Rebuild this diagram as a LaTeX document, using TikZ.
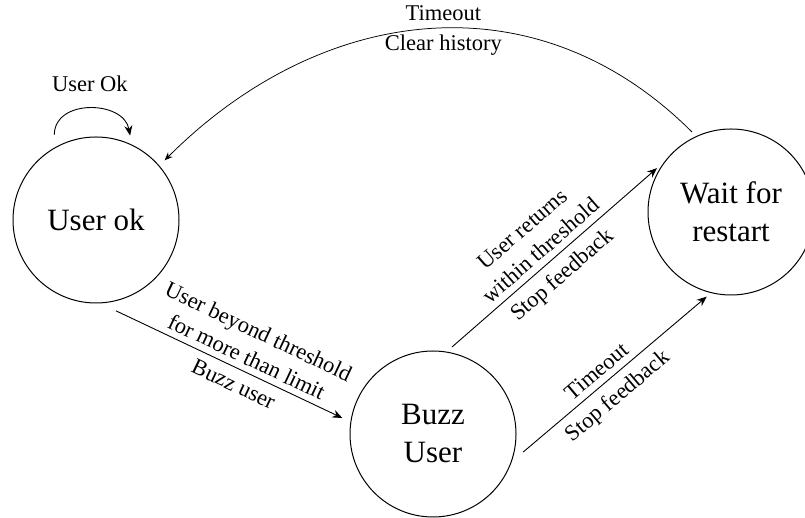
\documentclass[tikz,border=0pt]{standalone}
\usepackage{fontspec}
\setmainfont{LiberationSerif}[Extension=.ttf,UprightFont=*-Regular,BoldFont=*-Bold,ItalicFont=*-Italic]
\usetikzlibrary{arrows.meta}
\begin{document}
\begin{tikzpicture}[x=1pt,y=1pt,
  state/.style={circle,draw,line width=1pt,minimum size=166pt,inner sep=0pt,align=center,font=\fontsize{31}{38}\selectfont},
  lbl/.style={font=\fontsize{22.5}{28}\selectfont,align=center,inner sep=0pt},
  conn/.style={line width=0.9pt,-{Stealth[length=10pt,width=8pt]}},
  arcconn/.style={line width=0.75pt,-{Stealth[length=8pt,width=6.5pt]}}]
\useasboundingbox (0,0) rectangle (805,518);
\node[state] (uok) at (96,298) {User ok};
\node[state] (buzz) at (433,84) {Buzz\\User};
\node[state] (wait) at (731,306) {Wait for\\restart};
\coordinate (l1) at ([shift={(116:95)}]uok.center);
\coordinate (l2) at ([shift={(68:91)}]uok.center);
\coordinate (a1) at ([shift={(-77.6:93)}]uok.center);
\coordinate (a2) at ([shift={(170:92)}]buzz.center);
\coordinate (b1) at ([shift={(77.7:89)}]buzz.center);
\coordinate (b2) at ([shift={(149.3:86)}]wait.center);
\coordinate (c1) at ([shift={(-11.3:92)}]buzz.center);
\coordinate (c2) at ([shift={(254:88)}]wait.center);
\coordinate (d1) at ([shift={(116:89)}]wait.center);
\coordinate (d2) at ([shift={(41:91)}]uok.center);
% self loop
\draw[conn] (l1) .. controls +(90:36) and +(100:36) .. node[lbl,pos=0.5,above=16pt] {User Ok} (l2);
% long arc
\draw[arcconn] (d1) to[out=135,in=45,looseness=1.07]
  node[lbl,pos=0.473,above=7pt] {Timeout}
  node[lbl,pos=0.473,below=6pt] {Clear history} (d2);
% user ok -> buzz
\draw[conn] (a1) -- node[lbl,pos=0.55,sloped,above=6pt] {User beyond threshold\\for more than limit}
  node[lbl,pos=0.55,sloped,below=8pt] {Buzz user} (a2);
% buzz -> wait (upper)
\draw[conn] (b1) -- node[lbl,pos=0.48,sloped,above=6.5pt] {User returns\\within threshold}
  node[lbl,pos=0.48,sloped,below=8.5pt] {Stop feedback} (b2);
% buzz -> wait (lower)
\draw[conn] (c1) -- node[lbl,pos=0.45,sloped,above=6pt] {Timeout}
  node[lbl,pos=0.45,sloped,below=8.5pt] {Stop feedback} (c2);
\end{tikzpicture}
\end{document}
